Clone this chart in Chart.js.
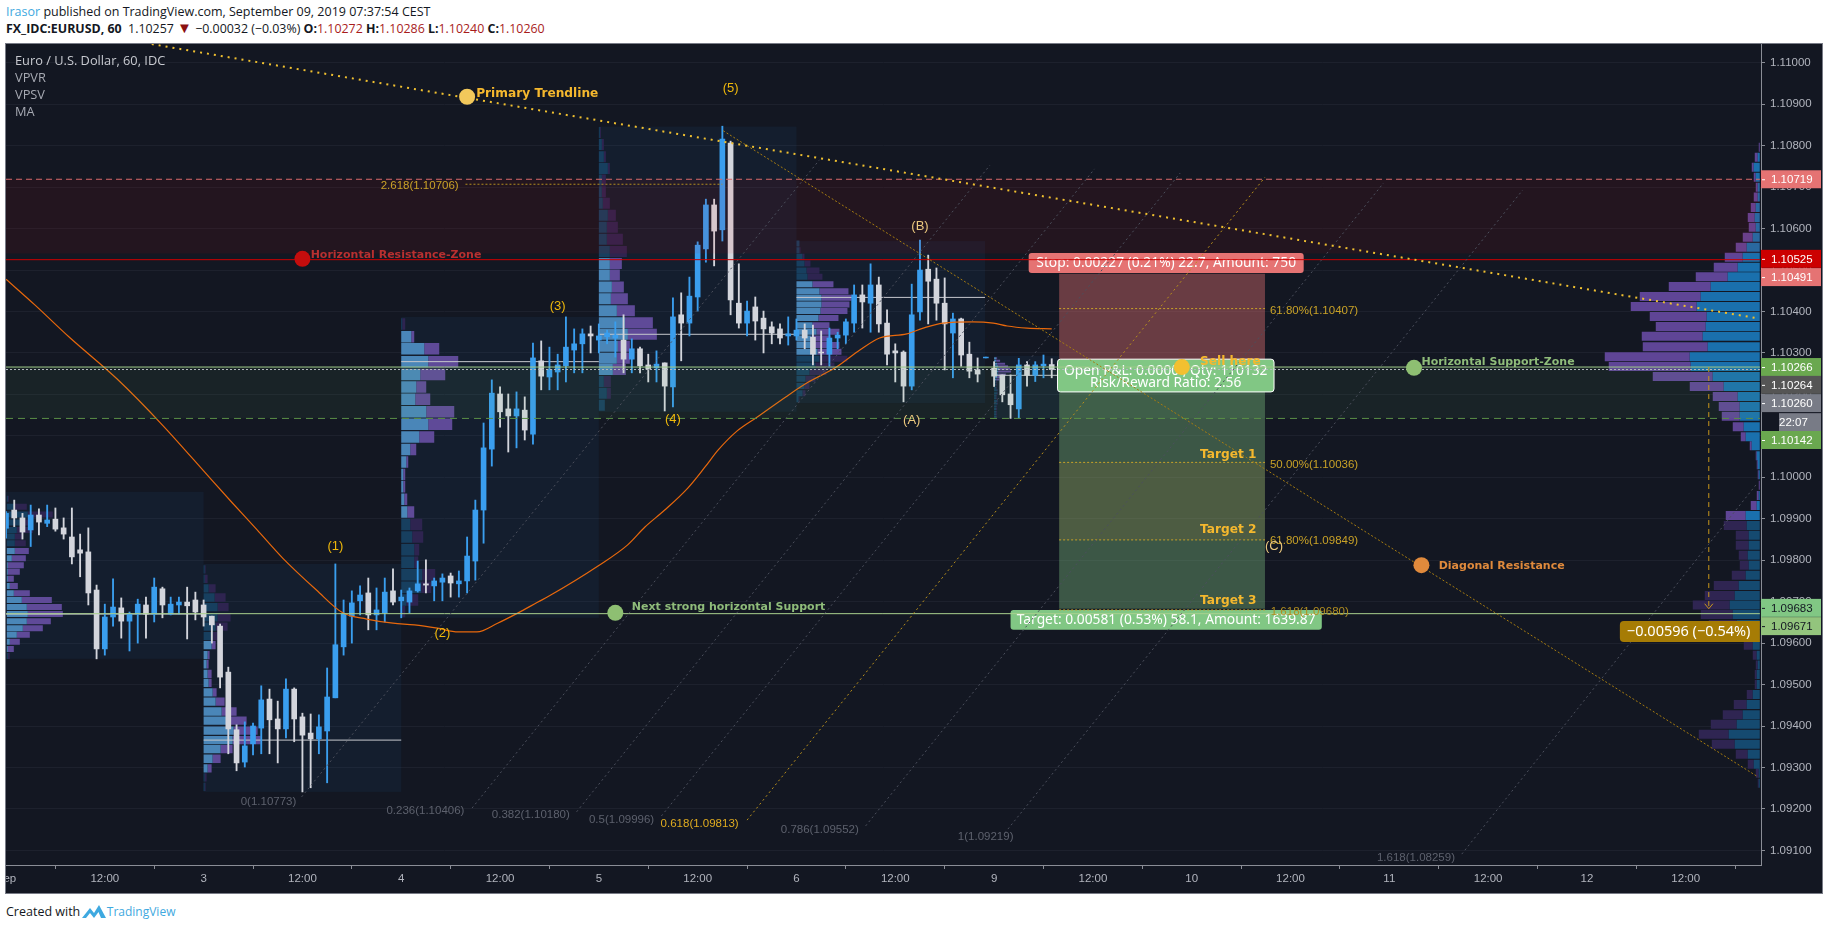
<!DOCTYPE html>
<html>
<head>
<meta charset="utf-8">
<title>EURUSD 60</title>
<script src="https://cdn.jsdelivr.net/npm/chart.js@4"></script>
<style>
    body { margin: 0; background: #fff; font-family: "Open Sans", sans-serif; color: #131722; }
    .line { position: absolute; left: 6px; white-space: nowrap; font-size: 12.5px; }
    .blue { color: #3fa9e0; }
    .red { color: #a81c1c; }
    .tri { color: #8c1010; font-size: 15px; line-height: 12px; }
    #frame { position: absolute; left: 5px; top: 43px; width: 1816px; height: 849px; border: 1px solid #787b86; overflow: hidden; }
    canvas { display: block; margin: -8px 0 0 -8px; }
</style>
</head>
<body>
<div class="line" style="top:3px"><span class="blue">Irasor</span> published on TradingView.com, September 09, 2019 07:37:54 CEST</div>
<div class="line" style="top:20px;font-size:12.4px"><b>FX_IDC:EURUSD, 60</b>&nbsp; 1.10257 <span class="tri">▼</span> −0.00032 (−0.03%) <b>O:</b><span class="red">1.10272</span> <b>H:</b><span class="red">1.10286</span> <b>L:</b><span class="red">1.10240</span> <b>C:</b><span class="red">1.10260</span></div>
<div id="frame"><canvas id="eurusdChart" width="1824" height="857"></canvas></div>
<div class="line" style="top:903px">Created with
    <svg width="24" height="15" viewBox="0 0 24 15" style="vertical-align:-3px;margin:0 -2px"><path d="M0 14 L8 4 L12 9 L17 1 L24 14 L19 14 L16.5 8 L12 14 L8 9 L4 14 Z" fill="#3fa9e0"/></svg>
    <span class="blue" style="font-size:12px">TradingView</span></div>
<script>
// prices are in 1e-5 units (110000 = 1.10000), time is hours since Sep 2 00:00 on the chart's compressed axis
const opens = [109877,109921,109902,109873,109909,109889,109899,109878,109856,109825,109820,109728,109586,109663,109685,109653,109670,109692,109670,109731,109670,109692,109699,109704,109692,109665,109641,109530,109391,109313,109357,109395,109465,109417,109393,109489,109422,109383,109369,109388,109468,109591,109665,109702,109721,109668,109673,109726,109702,109699,109726,109743,109738,109747,109762,109743,109750,109798,109921,110068,110201,110165,110148,110162,110104,110281,110242,110254,110269,110307,110322,110346,110331,110339,110336,110331,110285,110310,110271,110264,110276,110218,110392,110372,110435,110551,110657,110597,110806,110420,110372,110411,110384,110363,110358,110341,110341,110355,110338,110302,110297,110336,110343,110372,110440,110420,110464,110372,110305,110302,110220,110399,110502,110478,110420,110348,110382,110297,110259,110288,110263,110247,110201,110165,110271,110246,110269,110272];
const highs = [109917,109945,109913,109933,109924,109933,109926,109902,109926,109863,109878,109740,109694,109755,109709,109675,109706,109711,109757,109735,109711,109711,109735,109723,109704,109665,109646,109542,109403,109410,109407,109497,109489,109460,109514,109492,109431,109429,109427,109540,109791,109704,109726,109738,109757,109733,109757,109779,109728,109733,109798,109801,109757,109767,109769,109774,109856,109945,110131,110235,110218,110201,110206,110194,110324,110329,110314,110297,110387,110358,110358,110365,110370,110355,110375,110392,110334,110314,110297,110305,110276,110433,110445,110483,110568,110671,110671,110847,110811,110515,110425,110435,110401,110375,110370,110387,110382,110370,110367,110353,110360,110350,110382,110464,110464,110515,110483,110404,110322,110305,110466,110572,110536,110505,110481,110396,110384,110326,110288,110290,110279,110247,110247,110287,110279,110279,110295,110286];
const lows = [109853,109881,109851,109833,109861,109881,109870,109851,109791,109760,109692,109562,109571,109641,109612,109581,109600,109612,109651,109661,109668,109670,109610,109656,109641,109600,109492,109333,109292,109301,109330,109333,109333,109311,109371,109362,109241,109251,109333,109263,109468,109571,109600,109668,109632,109632,109651,109692,109661,109673,109723,109721,109702,109702,109711,109711,109721,109752,109841,110027,110121,110061,110071,110090,110080,110211,110211,110211,110230,110252,110252,110300,110300,110322,110290,110252,110252,110252,110230,110230,110160,110170,110281,110341,110401,110519,110510,110570,110392,110360,110341,110331,110300,110322,110322,110319,110331,110310,110271,110271,110268,110310,110322,110350,110360,110350,110350,110271,110230,110182,110211,110379,110370,110379,110259,110240,110268,110240,110230,110288,110219,110182,110142,110142,110220,110231,110240,110240];
const closes = [109913,109902,109868,109909,109892,109897,109875,109863,109808,109817,109721,109586,109663,109687,109653,109670,109694,109670,109735,109692,109694,109699,109690,109675,109663,109644,109518,109393,109311,109352,109400,109463,109415,109393,109489,109417,109378,109369,109398,109470,109596,109670,109697,109716,109668,109680,109723,109699,109711,109726,109743,109740,109750,109757,109745,109750,109810,109921,110071,110203,110158,110148,110165,110114,110288,110244,110260,110271,110314,110322,110346,110341,110341,110348,110343,110285,110310,110269,110261,110273,110220,110387,110372,110437,110560,110657,110594,110816,110428,110372,110401,110377,110358,110348,110336,110346,110355,110336,110297,110300,110336,110343,110375,110440,110423,110464,110370,110297,110300,110220,110392,110500,110473,110420,110370,110382,110295,110256,110249,110290,110244,110199,110175,110271,110246,110271,110273,110260];

const maHours = [0,3.5,7.8,13.5,19,25,27.5,30.5,33.6,37.7,40.9,43.8,47,49.6,52.4,54.9,57.2,59.7,62.2,64.6,66,71.9,75.5,77.6,80,82.8,84.9,86.5,88.8,91.2,94.7,97.3,100.7,103.7,106.1,109.4,111.4,113.8,117.4,119.9,121.6,124,127];
const maValues = [110478,110416,110336,110237,110126,109993,109938,109873,109805,109728,109673,109658,109648,109644,109636,109627,109627,109648,109673,109699,109714,109786,109837,109880,109921,109974,110025,110066,110112,110145,110194,110228,110264,110307,110336,110346,110360,110372,110375,110372,110365,110360,110358];

const yTicks = [109100,109200,109300,109400,109500,109600,109700,109800,109900,110000,110100,110200,110300,110400,110500,110600,110700,110800,110900,111000];
const xTickHours = [0,12,24,36,48,60,72,84,96,108,120,132,144,156,168,180,192,204];
const xTickLabels = ["Sep","12:00","3","12:00","4","12:00","5","12:00","6","12:00","9","12:00","10","12:00","11","12:00","12","12:00"];

// session volume profiles: bin price, up volume, down volume
const s1Bins = [109948,109929,109910,109891,109873,109857,109841,109822,109805,109788,109772,109755,109738,109720,109704,109687,109670,109653,109636,109620,109603,109586,109569];
const s1Up = [1,8,21,15,10,8,8,8,5,1,1,1,3,7,15,20,21,20,16,10,3,1,1];
const s1Down = [1,12,25,11,16,8,11,14,14,16,12,6,8,16,30,35,35,24,20,13,10,6,2];
const s2Bins = [109778,109755,109732,109710,109687,109662,109640,109617,109595,109571,109549,109526,109504,109481,109459,109435,109413,109389,109366,109344,109321,109298,109276,109253];
const s2Up = [1,1,5,11,14,14,12,9,8,4,3,4,5,9,12,18,25,30,29,17,9,4,1,1];
const s2Down = [1,3,7,11,11,13,12,5,4,2,2,4,3,4,9,15,18,24,28,12,8,4,2,1];
const s3Bins = [110370,110339,110310,110279,110248,110218,110188,110158,110128,110097,110067,110037,110007,109977,109947,109916,109886,109856,109825,109795,109765,109735,109704,109676];
const s3Up = [1,10,23,27,19,15,14,25,27,18,9,5,2,2,3,6,9,11,13,13,21,20,5,1];
const s3Down = [3,3,15,30,25,10,15,28,24,15,6,2,2,2,3,7,12,11,5,4,13,10,12,3];
const s4Bins = [110832,110803,110773,110745,110717,110689,110661,110632,110603,110574,110545,110516,110488,110459,110431,110402,110373,110345,110316,110287,110260,110231,110203,110174];
const s4Up = [1,3,5,9,3,3,4,9,8,8,11,11,11,13,12,18,26,29,19,18,14,5,8,6];
const s4Down = [1,2,2,2,4,4,7,8,11,16,17,12,10,12,17,18,28,29,12,13,13,7,4,0];
const s5Bins = [110564,110548,110532,110516,110499,110484,110466,110449,110433,110417,110401,110384,110367,110351,110335,110319,110303,110286,110270,110254,110238,110220,110203,110188];
const s5Up = [3,3,6,8,10,11,16,23,25,25,24,22,16,20,15,18,21,23,19,13,9,8,6,2];
const s5Down = [0,1,2,6,13,15,21,29,30,28,27,20,17,23,19,25,24,28,19,17,10,5,3,1];
const s6Bins = [110287,110281,110274,110268,110261,110255,110248,110242,110236,110229,110223,110216,110210,110203,110197,110191,110184,110178,110171,110165,110158,110152,110146];
const s6Up = [2,2,3,4,5,4,4,3,2,2,2,2,3,3,2,2,3,3,2,2,2,2,2];
const s6Down = [1,4,8,10,11,13,8,6,3,1,1,1,1,1,1,1,1,1,1,1,1,1,1];

// visible range profile on the right
const rangeBins = [110796,110772,110748,110724,110700,110676,110651,110627,110603,110579,110555,110531,110507,110484,110460,110436,110412,110388,110364,110340,110315,110291,110267,110243,110219,110195,110171,110147,110122,110098,110076,110052,110030,110006,109981,109956,109932,109908,109884,109860,109836,109812,109788,109764,109739,109715,109692,109669,109645,109620,109595,109571,109547,109524,109500,109476,109452,109427,109404,109380,109356,109332,109308,109286,109262];
const rangeUp = [0,2,6,4,2,2,4,5,4,7,13,17,22,32,49,59,63,53,54,57,52,70,69,47,36,22,20,20,16,14,8,3,2,1,0,1,3,14,13,11,11,12,11,14,21,25,30,27,23,16,7,3,2,3,3,7,13,17,23,31,25,12,6,1,1];
const rangeDown = [1,3,2,2,2,4,5,7,7,10,11,18,24,32,42,61,66,57,50,61,65,85,82,60,34,25,21,18,11,5,2,1,1,1,1,2,6,20,23,13,13,9,9,14,25,30,37,32,28,10,9,4,2,2,2,6,13,20,26,30,23,12,6,3,1];

const pocLevels = [109670,109366,110279,110345,110434,110246];
const pocStarts = [0,24,48,72,96,120];
const pocEnds = [24,48,72,96,118.9,127.9];
const sessionTops = [109965,109791,110387,110846,110570,110293];
const sessionBottoms = [109562,109241,109661,110158,110179,110141];

const fibNames = ["0(1.10773)","0.236(1.10406)","0.382(1.10180)","0.5(1.09996)","0.618(1.09813)","0.786(1.09552)","1(1.09219)","1.618(1.08259)"];
const fibStartH = [35.9,56.6,69.3,79.6,90,104.4,121.3,176.8];
const fibStartP = [109229,109202,109193,109183,109173,109159,109142,109091];
const fibEndH = [98.8,119.5,132.2,142.6,152.9,167.3,184.2,212.7];
const fibEndP = [110766,110753,110744,110734,110724,110710,110693,109986];
const fibTextH = [28.5,46.2,59,70.8,79.5,94.1,115.6,166.5];
const fibTextP = [109216,109196,109186,109174,109164,109150,109133,109082];

const xMax = 213.14, yMin = 109064.7, yMax = 111045.3;
const volToHours = 1 / 8.234;

const BLUE = "#3a9eee", WHITE = "#d3d5dc";

function rows(profile) {
    const sets = { brightUp: [], brightDown: [], darkUp: [], darkDown: [] };
    profile.bins.forEach(function (price, i) {
        const bright = price <= profile.coreHigh && price >= profile.coreLow;
        const a = profile.start;
        const b = a + profile.dir * profile.up[i] * volToHours;
        const c = b + profile.dir * profile.down[i] * volToHours;
        const up = bright ? sets.brightUp : sets.darkUp;
        const down = bright ? sets.brightDown : sets.darkDown;
        up.push({ x: a, y: price }, { x: b, y: price }, { x: b, y: null });
        down.push({ x: b, y: price }, { x: c, y: price }, { x: c, y: null });
    });
    return [
        [sets.brightUp, profile.colors[0]], [sets.brightDown, profile.colors[1]],
        [sets.darkUp, profile.colors[2]], [sets.darkDown, profile.colors[3]],
    ].map(function (s) {
        return { type: "line", data: s[0], borderColor: s[1], borderWidth: profile.thick, pointRadius: 0, spanGaps: false, borderCapStyle: "butt", order: 60 };
    });
}

function seg(x0, y0, x1, y1, color, width, dash, order, id) {
    return {
        type: "line", id: id,
        data: [{ x: x0, y: y0 }, { x: x1, y: y1 }],
        borderColor: color, borderWidth: width, borderDash: dash || [], pointRadius: 0, order: order || 20,
    };
}

const sessionColors = ["#4a86b8", "#5f4a98", "#173f5f", "#2e2450"];
const rangeColors = ["#1a70ad", "#5f4596", "#154a70", "#2f2552"];
const profiles = [
    { bins: s1Bins, up: s1Up, down: s1Down, start: 0.1, dir: 1, thick: 6, coreHigh: 109822, coreLow: 109586, colors: sessionColors },
    { bins: s2Bins, up: s2Up, down: s2Down, start: 24, dir: 1, thick: 8.3, coreHigh: 109595, coreLow: 109298, colors: sessionColors },
    { bins: s3Bins, up: s3Up, down: s3Down, start: 48, dir: 1, thick: 11.5, coreHigh: 110339, coreLow: 109916, colors: sessionColors },
    { bins: s4Bins, up: s4Up, down: s4Down, start: 72, dir: 1, thick: 11, coreHigh: 110516, coreLow: 110260, colors: sessionColors },
    { bins: s5Bins, up: s5Up, down: s5Down, start: 96, dir: 1, thick: 6, coreHigh: 110466, coreLow: 110303, colors: sessionColors },
    { bins: s6Bins, up: s6Up, down: s6Down, start: 120, dir: 1, thick: 2, coreHigh: 110287, coreLow: 110236, colors: sessionColors },
    { bins: rangeBins, up: rangeUp, down: rangeDown, start: 212.99, dir: -1, thick: 9, coreHigh: 110900, coreLow: 109908, colors: rangeColors },
];

const datasets = [];
profiles.forEach(function (p) { datasets.push.apply(datasets, rows(p)); });

pocLevels.forEach(function (p, i) { datasets.push(seg(pocStarts[i], p, pocEnds[i], p, "#c6c8cd", 1, [], 55)); });

const candleColors = closes.map(function (c, i) { return c >= opens[i] ? BLUE : WHITE; });
datasets.push({
    type: "bar", data: highs.map(function (h, i) { return { x: i, y: [lows[i], h] }; }),
    backgroundColor: candleColors, barThickness: 1.2, grouped: false, order: 50,
});
datasets.push({
    type: "bar", data: opens.map(function (o, i) { return { x: i, y: [Math.min(o, closes[i]), Math.max(o, closes[i])] }; }),
    backgroundColor: candleColors, barThickness: 5, grouped: false, order: 49,
});
datasets.push({
    type: "line", data: maHours.map(function (h, i) { return { x: h, y: maValues[i] }; }),
    borderColor: "#e8680c", borderWidth: 1.2, pointRadius: 0, cubicInterpolationMode: "monotone", order: 40,
});

// horizontal levels; the zones and the position boxes are painted just before the first of them
datasets.push(seg(0, 110719, 213, 110719, "#d96a6a", 1, [6, 4], 30, "firstLevel"));
datasets.push(seg(0, 110525, 213, 110525, "#cc0000", 1, [], 29));
datasets.push(seg(0, 110266, 213, 110266, "#9ec98a", 1, [], 29));
datasets.push(seg(0, 110260, 213, 110260, "#b5b8c0", 1, [2, 2], 29));
datasets.push(seg(0, 110142, 213, 110142, "#5a8f47", 1, [7, 5], 29));
datasets.push(seg(0, 109671, 213, 109671, "#a9d18e", 1, [], 29));
datasets.push(seg(55.8, 110707, 87, 110707, "#b08d20", 1, [2, 2], 28));
[110407, 110036, 109849, 109680].forEach(function (p) { datasets.push(seg(127.9, p, 152.9, p, "#c9a227", 1, [2, 2], 28)); });

fibStartH.forEach(function (h, i) {
    const color = i === 4 ? "#b8901c" : "#4b4f5c";
    datasets.push(seg(h, fibStartP[i], fibEndH[i], fibEndP[i], color, 1, [2, 3], 27));
});

datasets.push(seg(17.7, 111045, 212.6, 110384, "#f0c030", 2, [2, 5], 25));
datasets.push(seg(87.1, 110836, 212.8, 109277, "#a67c10", 1, [2, 2], 26));

datasets.push(seg(206.8, 110266, 206.8, 109683, "#c9971b", 1, [5, 4], 24));
datasets.push({
    type: "line", data: [{ x: 206.3, y: 109695 }, { x: 206.8, y: 109683 }, { x: 207.3, y: 109695 }],
    borderColor: "#c9971b", borderWidth: 1, pointRadius: 0, order: 24,
});

datasets.push({
    type: "line", showLine: false, order: 10,
    data: [{ x: 56, y: 110918 }, { x: 36, y: 110527 }, { x: 74, y: 109673 }, { x: 171, y: 110264 }, { x: 171.9, y: 109788 }, { x: 142.8, y: 110266 }],
    pointRadius: 8, pointBorderWidth: 0,
    pointBackgroundColor: ["#f2c85b", "#c40d0d", "#8ebf72", "#8ebf72", "#e08a3c", "#f2c030"],
});

const BOLD = 'bold 11px "DejaVu Sans"';
const BOLD_BIG = 'bold 12.2px "DejaVu Sans"';
const FIB = '11.5px "Liberation Sans"';
const WAVE = '13px "Liberation Sans"';
const notes = [
    ["Primary Trendline", 57.1, 110926, "#f5b82e", BOLD_BIG],
    ["Horizontal Resistance-Zone", 37, 110537, "#b83030", BOLD],
    ["Next strong horizontal Support", 76, 109686, "#8fbc7a", BOLD],
    ["Horizontal Support-Zone", 171.9, 110277, "#8fbc7a", BOLD],
    ["Diagonal Resistance", 174, 109785, "#e08a3c", BOLD],
    ["Sell here", 145, 110278, "#f5b82e", BOLD_BIG],
    ["Target 1", 145, 110054, "#f5b82e", BOLD_BIG],
    ["Target 2", 145, 109873, "#f5b82e", BOLD_BIG],
    ["Target 3", 145, 109701, "#f5b82e", BOLD_BIG],
    ["61.80%(1.10407)", 153.5, 110402, "#c9a227", FIB],
    ["50.00%(1.10036)", 153.5, 110031, "#c9a227", FIB],
    ["61.80%(1.09849)", 153.5, 109847, "#c9a227", FIB],
    ["1.618(1.09680)", 153.6, 109676, "#b08d20", FIB],
    ["2.618(1.10706)", 45.5, 110704, "#c9a227", FIB],
];
const waves = [
    ["(1)", 40, 109834, "#f0b90b"], ["(2)", 53, 109624, "#f0b90b"], ["(3)", 67, 110413, "#f0b90b"],
    ["(4)", 81, 110140, "#f0b90b"], ["(5)", 88, 110939, "#f0b90b"], ["(A)", 110, 110138, "#ecc97f"],
    ["(B)", 111, 110606, "#ecc97f"], ["(C)", 154, 109834, "#ecc97f"],
];
const tags = [
    ["1.10719", 110719, "#e57373", "#fff"], ["1.10525", 110527, "#cc0000", "#fff"], ["1.10491", 110483, "#e57373", "#fff"],
    ["1.10266", 110266, "#6aa84f", "#fff"], ["1.10264", 110223, "#555555", "#fff"], ["1.10260", 110179, "#787b86", "#fff"],
    ["22:07", 110133, "#787b86", "#fff"], ["1.10142", 110090, "#6aa84f", "#fff"],
    ["1.09683", 109685, "#81c784", "#131722"], ["1.09671", 109641, "#93c47d", "#131722"],
];

function roundBox(ctx, x0, y0, x1, y1, fill, stroke) {
    ctx.beginPath();
    ctx.roundRect(x0, y0, x1 - x0, y1 - y0, 3);
    ctx.fillStyle = fill;
    ctx.fill();
    if (stroke) {
        ctx.strokeStyle = stroke;
        ctx.stroke();
    }
}

const overlay = {
    id: "overlay",
    beforeDraw: function (chart) {
        chart.ctx.fillStyle = "#131722";
        chart.ctx.fillRect(0, 0, chart.width, chart.height);
    },
    beforeDatasetsDraw: function (chart) {
        const ctx = chart.ctx, X = chart.scales.x, Y = chart.scales.y;
        ctx.fillStyle = "rgba(41,120,190,0.08)";
        sessionTops.forEach(function (top, i) {
            const a = X.getPixelForValue(pocStarts[i]), b = X.getPixelForValue(pocEnds[i]);
            ctx.fillRect(a, Y.getPixelForValue(top), b - a, Y.getPixelForValue(sessionBottoms[i]) - Y.getPixelForValue(top));
        });
    },
    beforeDatasetDraw: function (chart, args) {
        if (chart.data.datasets[args.index].id !== "firstLevel") return;
        const ctx = chart.ctx, X = chart.scales.x, Y = chart.scales.y;
        const band = function (h0, h1, p0, p1, color) {
            ctx.fillStyle = color;
            ctx.fillRect(X.getPixelForValue(h0), Y.getPixelForValue(p0), X.getPixelForValue(h1) - X.getPixelForValue(h0), Y.getPixelForValue(p1) - Y.getPixelForValue(p0));
        };
        band(0, 213, 110719, 110540, "rgba(255,0,0,0.07)");
        band(0, 213, 110266, 110142, "rgba(120,200,120,0.07)");
        band(127.9, 152.9, 110491, 110266, "rgba(229,115,115,0.41)");
        band(127.9, 152.9, 110266, 109683, "rgba(129,199,132,0.37)");
        band(127.9, 152.9, 110036, 109849, "rgba(255,140,30,0.09)");

        ctx.font = '13.8px "Noto Sans"';
        ctx.textAlign = "center";
        ctx.textBaseline = "middle";
        const box = function (h0, h1, p0, p1, fill, stroke, lines) {
            const x0 = X.getPixelForValue(h0), x1 = X.getPixelForValue(h1);
            roundBox(ctx, x0, Y.getPixelForValue(p0), x1, Y.getPixelForValue(p1), fill, stroke);
            ctx.fillStyle = "#fff";
            lines.forEach(function (l) { ctx.fillText(l[0], (x0 + x1) / 2, Y.getPixelForValue(l[1])); });
        };
        box(124.2, 157.6, 110541, 110493, "#e57373", null, [["Stop: 0.00227 (0.21%) 22.7, Amount: 750", 110517]]);
        box(127.7, 154, 110285, 110206, "#81c784", "#fff", [["Open P&L: 0.0000 , Qty: 110132", 110257], ["Risk/Reward Ratio: 2.56", 110227]]);
        box(122, 159.8, 109680, 109632, "#81c784", null, [["Target: 0.00581 (0.53%) 58.1, Amount: 1639.87", 109656]]);
    },
    afterDatasetsDraw: function (chart) {
        const ctx = chart.ctx, X = chart.scales.x, Y = chart.scales.y, area = chart.chartArea;
        ctx.textBaseline = "middle";
        ctx.textAlign = "left";
        notes.forEach(function (n) {
            ctx.font = n[4];
            ctx.fillStyle = n[3];
            ctx.fillText(n[0], X.getPixelForValue(n[1]), Y.getPixelForValue(n[2]));
        });
        ctx.font = FIB;
        fibNames.forEach(function (name, i) {
            ctx.fillStyle = i === 4 ? "#e0ac20" : "#5d616d";
            ctx.fillText(name, X.getPixelForValue(fibTextH[i]), Y.getPixelForValue(fibTextP[i]));
        });
        ctx.textAlign = "center";
        ctx.font = WAVE;
        waves.forEach(function (w) {
            ctx.fillStyle = w[3];
            ctx.fillText(w[0], X.getPixelForValue(w[1]), Y.getPixelForValue(w[2]));
        });

        // legend
        ctx.textAlign = "left";
        ctx.font = '12.8px "Open Sans"';
        ctx.fillStyle = "#c8cad0";
        ctx.fillText("Euro / U.S. Dollar, 60, IDC", area.left + 9, area.top + 17);
        ctx.fillStyle = "#a6a9b2";
        ["VPVR", "VPSV", "MA"].forEach(function (t, i) { ctx.fillText(t, area.left + 9, area.top + 34 + i * 17); });

        // delta tag
        const dy = Y.getPixelForValue(109628), dx0 = X.getPixelForValue(196);
        ctx.beginPath();
        ctx.roundRect(dx0, dy - 10.5, X.getPixelForValue(213) - dx0, 21, [4, 0, 0, 4]);
        ctx.fillStyle = "#a67c05";
        ctx.fill();
        ctx.fillStyle = "#fff";
        ctx.font = '14.5px "Noto Sans"';
        ctx.fillText("−0.00596 (−0.54%)", dx0 + 7, dy);
    },
    afterDraw: function (chart) {
        const ctx = chart.ctx, Y = chart.scales.y, left = chart.chartArea.right;
        ctx.textBaseline = "middle";
        ctx.textAlign = "left";
        ctx.font = '11.5px "Liberation Sans"';
        tags.forEach(function (t) {
            const y = Y.getPixelForValue(t[1]);
            const w = t[0] === "22:07" ? 42 : 60;
            ctx.fillStyle = t[2];
            ctx.fillRect(left + 60 - w, y - 9, w, 18);
            ctx.fillStyle = t[3];
            if (t[0] !== "22:07") ctx.fillRect(left + 1, y, 3, 1);
            ctx.fillText(t[0], left + 10 + (60 - w ? 8 : 0), y + 1);
        });
    },
};

new Chart(document.getElementById("eurusdChart"), {
    type: "bar",
    data: { datasets: datasets },
    plugins: [overlay],
    options: {
        responsive: false,
        animation: false,
        events: [],
        devicePixelRatio: 1,
        layout: { padding: { left: 8, top: 8, right: 0, bottom: 0 } },
        plugins: { legend: { display: false }, tooltip: { enabled: false } },
        scales: {
            x: {
                type: "linear", min: 0, max: xMax, offset: false,
                afterBuildTicks: function (scale) { scale.ticks = xTickHours.map(function (v) { return { value: v }; }); },
                afterFit: function (scale) { scale.height = 28; scale.paddingLeft = 0; scale.paddingRight = 0; },
                ticks: {
                    color: "#b2b5be", font: { family: "Liberation Sans", size: 11.5 }, autoSkip: false, maxRotation: 0, padding: 3,
                    callback: function (v, i) { return xTickLabels[i]; },
                },
                grid: { drawOnChartArea: false, tickLength: 4, tickColor: "#8a8d96" },
                border: { color: "#8a8d96" },
            },
            y: {
                type: "linear", position: "right", min: yMin, max: yMax,
                afterBuildTicks: function (scale) { scale.ticks = yTicks.map(function (v) { return { value: v }; }); },
                afterFit: function (scale) { scale.width = 61; scale.paddingTop = 0; scale.paddingBottom = 0; },
                ticks: {
                    color: "#b2b5be", font: { family: "Liberation Sans", size: 11.5 }, padding: 5,
                    callback: function (v) { return (v / 1e5).toFixed(5); },
                },
                grid: { color: "#1d212d", tickLength: 4, tickColor: "#8a8d96" },
                border: { color: "#8a8d96" },
            },
        },
    },
});
</script>
</body>
</html>
